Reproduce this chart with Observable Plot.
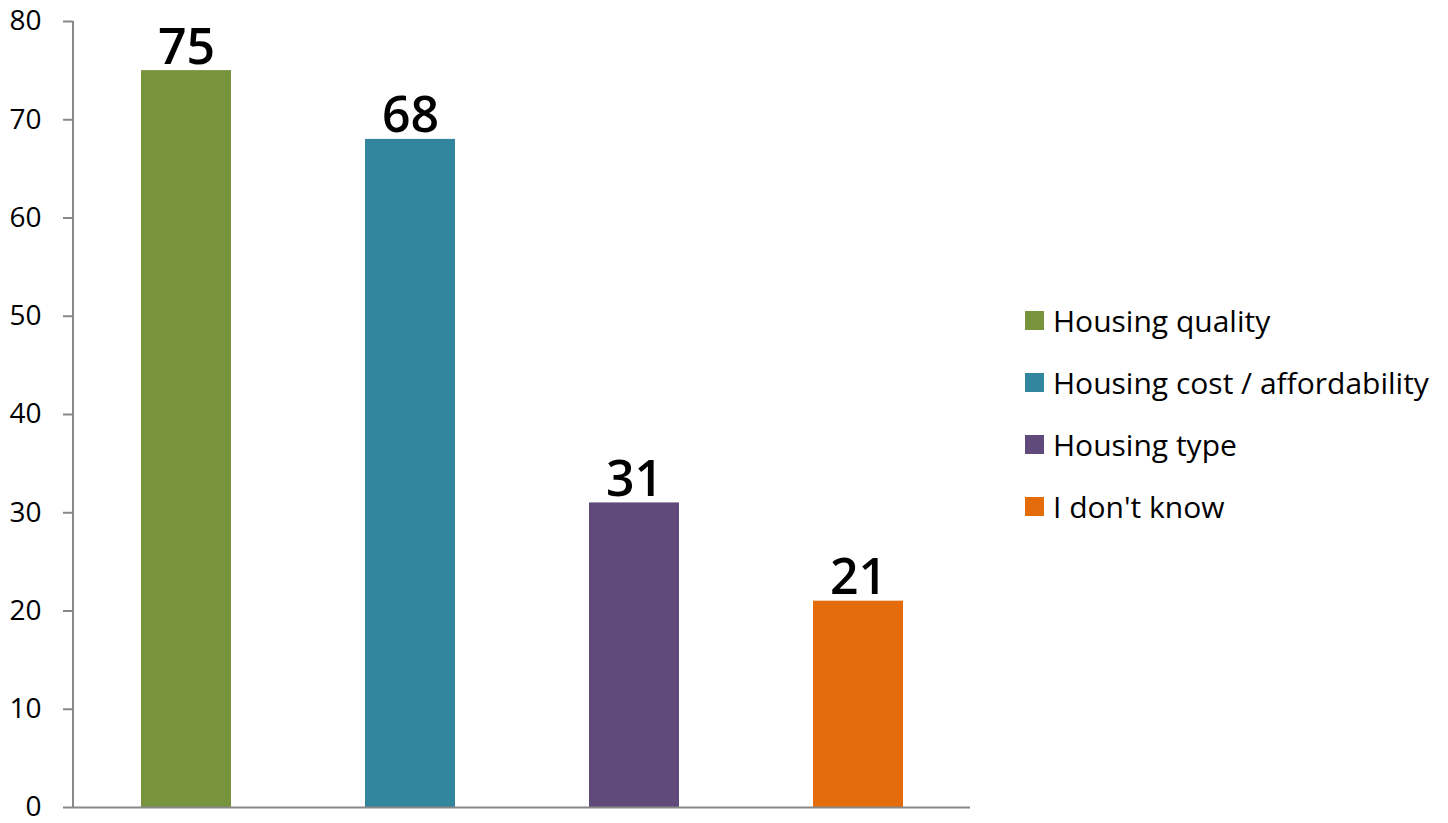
<!DOCTYPE html>
<html>
<head>
<meta charset="utf-8">
<script src="https://cdn.jsdelivr.net/npm/d3@7"></script>
<script src="https://cdn.jsdelivr.net/npm/@observablehq/plot@0.6"></script>
<style>
  html, body { margin: 0; padding: 0; background: #fff; }
  #wrap { position: relative; width: 1448px; height: 823px; font-family: "Open Sans", Lato, sans-serif; }
  #legend { position: absolute; left: 1025px; top: 289px; }
  .row { display: flex; align-items: center; height: 62px; font-size: 30px; color: #000; white-space: nowrap; }
  .sw { width: 19px; height: 19px; margin-right: 9px; flex: none; }
</style>
</head>
<body>
<div id="wrap"></div>
<script>
const categories = ["Housing quality", "Housing cost / affordability", "Housing type", "I don't know"];
const values = [75, 68, 31, 21];
const colors = ["#77933C", "#31859C", "#604A7B", "#E46C0A"];
const yTicks = [0, 10, 20, 30, 40, 50, 60, 70, 80];

const data = categories.map((c, i) => ({category: c, value: values[i]}));

const chart = Plot.plot({
  width: 1448,
  height: 823,
  marginLeft: 73,
  marginRight: 478,
  marginTop: 21,
  marginBottom: 16,
  style: {fontFamily: "'Open Sans', Lato, sans-serif", fontSize: "28px", color: "#000", background: "#fff"},
  x: {domain: categories, paddingInner: 0.6, paddingOuter: 0.3, axis: null},
  y: {domain: [0, 80], ticks: yTicks},
  color: {domain: categories, range: colors},
  marks: [
    Plot.axisY({ticks: yTicks, tickSize: 10, tickPadding: 22, stroke: "#888", strokeWidth: 2, strokeOpacity: 1, label: null, fill: "#000", fontSize: 28}),
    Plot.barY(data, {x: "category", y: "value", fill: "category"}),
    Plot.ruleY([0], {stroke: "#888", strokeWidth: 2}),
    Plot.text(data, {x: "category", y: "value", text: d => String(d.value), lineAnchor: "bottom", dy: -7, fontSize: 50, fontWeight: 600, fill: "#000"})
  ]
});

const wrap = document.getElementById("wrap");
wrap.appendChild(chart);

// y-axis domain line drawn via the plot's own y scale
const ys = chart.scale("y");
d3.select(chart).append("line")
  .attr("x1", 73).attr("x2", 73)
  .attr("y1", ys.apply(0)).attr("y2", ys.apply(80))
  .attr("stroke", "#888").attr("stroke-width", 2);

// legend
const legend = document.createElement("div");
legend.id = "legend";
categories.forEach((c, i) => {
  const row = document.createElement("div");
  row.className = "row";
  const sw = document.createElement("div");
  sw.className = "sw";
  sw.style.background = colors[i];
  const label = document.createElement("span");
  label.textContent = c;
  row.appendChild(sw);
  row.appendChild(label);
  legend.appendChild(row);
});
wrap.appendChild(legend);
</script>
</body>
</html>
